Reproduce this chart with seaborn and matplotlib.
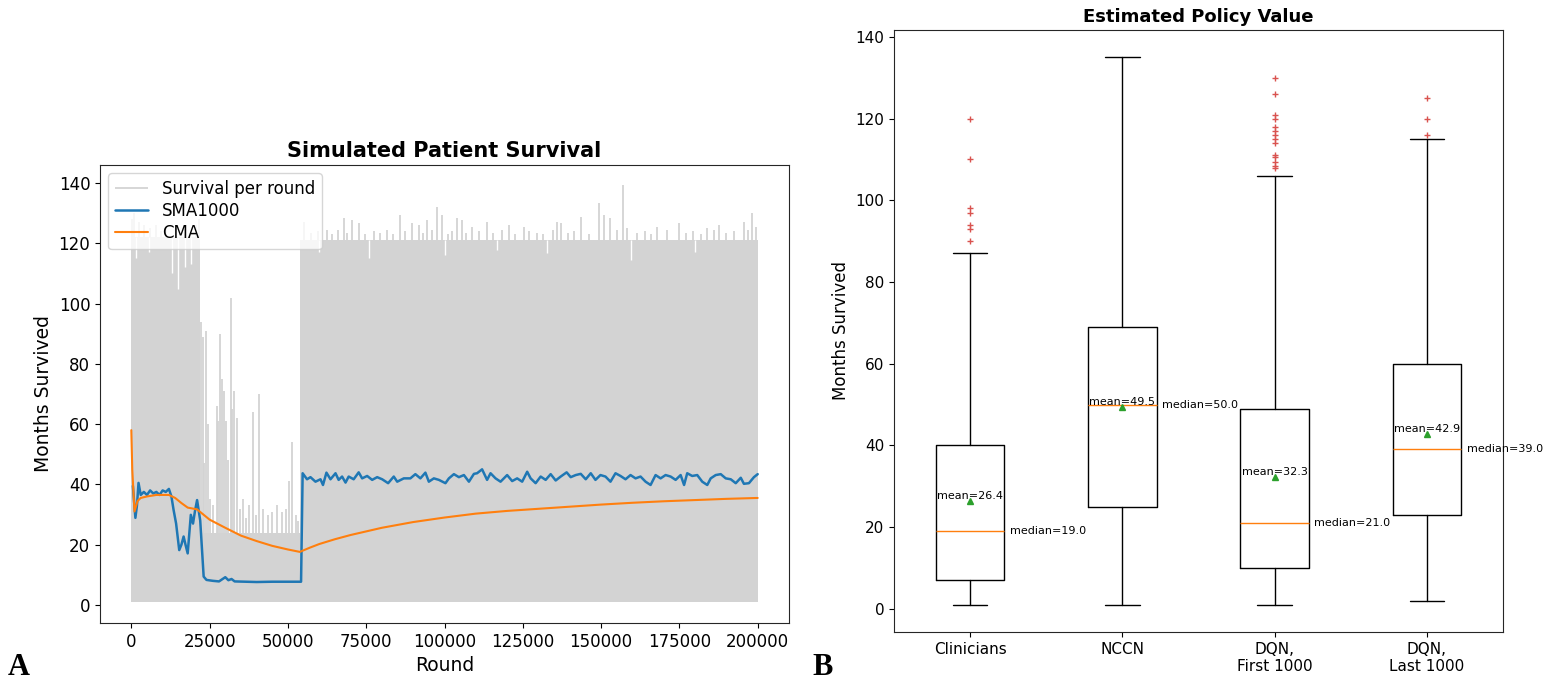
import matplotlib
matplotlib.use('Agg')
import matplotlib.pyplot as plt
import seaborn as sns

# survival per round: dense gray band (envelope + spikes + white notches)
band_round = [0, 22000, 22000, 53800, 53800, 200000]
band_top = [122, 122, 24, 24, 121, 121]
band_bottom = 1

spike_round = [300, 1000, 2500, 4000, 6000, 8000, 9500, 11000, 20500, 21500,
               22400, 22800, 23300, 23900, 24500, 25200, 26100, 27200, 27700, 28400,
               29000, 29500, 30100, 31000, 31800, 32300, 32800, 33900, 34800, 35600,
               36700, 37500, 38800, 39700, 40800, 42000, 43500, 45000, 46500, 48000,
               49500, 50500, 51300, 52500, 53300,
               55000, 62500, 67800, 70500, 72600, 85900, 89700, 91800, 94500, 97700,
               99300, 104000, 105700, 108900, 113600, 120500, 125300, 136000, 137100, 143500,
               149300, 150900, 153000, 157100, 158400, 168000, 174900, 183900, 187600, 195600,
               198100, 199400,
               57500, 59500, 64000, 66000, 69000, 74500, 77500, 79500, 81500, 83500,
               87500, 93000, 96000, 101000, 102500, 107000, 111000, 115500, 118500, 122500,
               127000, 129500, 131500, 134500, 139500, 141500, 146000, 155000, 161500, 164000,
               166000, 171000, 177000, 179500, 182000, 186000, 190000, 192500, 197000]
spike_top = [128, 130, 127, 126, 125, 126, 124, 125, 126, 128,
             94, 89, 47, 91, 60, 35, 33, 66, 61, 90,
             75, 71, 61, 48, 102, 65, 71, 62, 32, 35,
             29, 33, 64, 30, 70, 32, 30, 31, 33, 31,
             32, 41, 54, 30, 28,
             127.2, 124.4, 128.3, 127.7, 126.6, 129.4, 126.6, 126.1, 127.7, 132.2,
             129.5, 128.3, 127.7, 125.5, 127.2, 126.1, 125.5, 127.2, 126.6, 128.8,
             133.3, 129.4, 128.3, 139.3, 125.0, 125.5, 126.6, 125.0, 126.1, 127.2,
             130.2, 125.5,
             123.5, 124.0, 123.0, 124.5, 123.5, 123.0, 124.0, 123.5, 124.5, 123.0,
             124.0, 123.5, 124.5, 123.0, 124.0, 123.5, 124.0, 123.5, 124.5, 123.0,
             124.0, 123.5, 123.0, 124.5, 123.5, 124.0, 123.0, 124.5, 123.5, 124.0,
             123.0, 124.5, 123.5, 124.0, 123.0, 124.5, 123.5, 124.0, 124.5]

notch_round = [1500, 5500, 13000, 14800, 17000, 19000,
               60000, 75800, 100000, 116800, 132800, 159400, 180000]
notch_low = [115, 117, 110, 105, 112, 113,
             117, 115, 116, 117.7, 116.7, 114.5, 117]
notch_high = [122, 122, 122, 122, 122, 122,
              121, 121, 121, 121, 121, 121, 121]

# simple moving average (1000 rounds)
sma_round = [500, 1300, 1800, 2300, 3000, 4000, 5000, 6000, 7000, 8000,
             9000, 10000, 11000, 12000, 12800, 13500, 14300, 15300, 16000, 16700,
             17300, 18000, 19000, 19700, 20300, 21000, 22000, 23100, 24000, 26000,
             28000, 30000, 31000, 32000, 33000, 36000, 40000, 45000, 50000, 54200,
             54700, 56100, 57200, 58800, 60400, 61200, 62300, 63600, 65200, 66200,
             67300, 68400, 69400, 71000, 72600, 73700, 75300, 76900, 78500, 80100,
             82000, 83800, 84900, 87000, 89100, 90700, 92300, 93900, 95000, 96600,
             98200, 100300, 101400, 103000, 104600, 106200, 107800, 109400, 110400, 112000,
             112600, 113600, 114700, 116300, 117900, 120000, 121600, 123200, 124800, 126400,
             127500, 129100, 130700, 132300, 133900, 135500, 137100, 139000, 140300, 141900,
             143500, 145100, 146700, 148200, 149800, 151400, 153000, 154600, 156200, 157800,
             159400, 161000, 162600, 164200, 165800, 167400, 169000, 170600, 172200, 173800,
             175400, 176500, 177500, 179100, 180700, 182300, 183900, 185000, 186600, 188200,
             189800, 191400, 193000, 194600, 195600, 197200, 198800, 200000]
sma_value = [39.5, 28.9, 33.0, 40.5, 36.5, 37.5, 36.5, 38.0, 37.0, 37.5,
             36.5, 38.0, 37.5, 38.5, 36.0, 31.5, 27.0, 18.2, 20.0, 22.7,
             20.0, 17.1, 29.9, 27.0, 31.0, 34.8, 28.0, 9.4, 8.3, 8.0,
             7.8, 9.2, 8.2, 8.6, 7.8, 7.7, 7.6, 7.7, 7.7, 7.7,
             43.7, 41.7, 42.4, 40.9, 41.7, 39.8, 43.9, 41.7, 43.7, 41.5,
             42.6, 40.6, 42.6, 41.7, 44.0, 42.0, 42.8, 41.5, 42.4, 41.7,
             40.4, 42.6, 40.9, 42.0, 42.0, 43.4, 42.0, 43.9, 40.9, 42.0,
             41.5, 40.4, 42.0, 43.4, 42.4, 43.1, 40.9, 43.5, 43.7, 45.0,
             43.7, 41.5, 43.7, 42.0, 40.9, 43.1, 41.1, 42.0, 40.9, 44.2,
             42.0, 40.4, 42.6, 41.5, 43.4, 41.3, 42.6, 44.0, 42.4, 43.1,
             43.5, 41.7, 43.7, 41.5, 43.1, 42.6, 40.9, 43.7, 42.8, 41.7,
             43.1, 42.0, 42.6, 40.9, 39.8, 43.1, 42.0, 43.1, 42.6, 41.5,
             43.1, 39.8, 43.7, 42.8, 43.1, 40.9, 39.8, 42.0, 43.1, 43.4,
             42.0, 41.7, 40.4, 42.2, 40.2, 40.4, 42.4, 43.4]

# cumulative moving average
cma_round = [0, 300, 1000, 2000, 3000, 5000, 8000, 12000, 14000, 16000,
             18000, 21000, 25000, 30000, 35000, 40000, 45000, 50000, 53800, 57000,
             60000, 65000, 70000, 80000, 90000, 100000, 110000, 120000, 130000, 140000,
             150000, 160000, 170000, 180000, 190000, 200000]
cma_value = [58.0, 45.0, 31.0, 34.5, 35.5, 36.0, 36.5, 36.5, 35.5, 33.8,
             32.3, 31.7, 28.3, 25.6, 23.0, 21.2, 19.6, 18.4, 17.6, 19.0,
             20.2, 21.8, 23.2, 25.6, 27.5, 29.0, 30.3, 31.2, 31.9, 32.6,
             33.3, 33.9, 34.4, 34.8, 35.2, 35.5]

# boxplot statistics (months survived)
box_labels = ['Clinicians', 'NCCN', 'DQN,\nFirst 1000', 'DQN,\nLast 1000']
box_whislo = [1, 1, 1, 2]
box_q1 = [7, 25, 10, 23]
box_med = [19.0, 50.0, 21.0, 39.0]
box_q3 = [40, 69, 49, 60]
box_whishi = [87, 135, 106, 115]
box_mean = [26.4, 49.5, 32.3, 42.9]
box_fliers = [[90, 93, 94, 97, 98, 110, 120],
              [],
              [108, 108.5, 109.5, 110.5, 111, 114, 115, 116, 117, 118, 120, 121, 126, 130],
              [116, 120, 125]]

sns.set_style('ticks')
plt.rcParams['font.family'] = ['DejaVu Sans']
plt.rcParams['text.color'] = 'black'
plt.rcParams['axes.labelcolor'] = 'black'
plt.rcParams['xtick.color'] = 'black'
plt.rcParams['ytick.color'] = 'black'

fig = plt.figure(figsize=(15.51, 6.79), dpi=100)
ax1 = fig.add_axes([100 / 1551, 1 - 623 / 679, 689 / 1551, 458 / 679])
ax2 = fig.add_axes([894 / 1551, 1 - 632 / 679, 609 / 1551, 602 / 679])

# --- A: simulated survival
ax1.fill_between(band_round, band_bottom, band_top, color='lightgray', linewidth=0)
ax1.vlines(spike_round, band_bottom, spike_top, color='lightgray', linewidth=1.3,
           label='Survival per round')
ax1.vlines(notch_round, notch_low, notch_high, color='white', linewidth=1)
sns.lineplot(x=sma_round, y=sma_value, ax=ax1, color='C0', linewidth=1.8, label='SMA1000')
sns.lineplot(x=cma_round, y=cma_value, ax=ax1, color='C1', linewidth=1.5, label='CMA')
ax1.set_xlim(-10000, 210000)
ax1.set_ylim(-6, 146)
ax1.set_xticks(range(0, 200001, 25000))
ax1.set_yticks(range(0, 141, 20))
ax1.tick_params(labelsize=12)
ax1.set_title('Simulated Patient Survival', fontsize=15, fontweight='bold')
ax1.set_xlabel('Round', fontsize=13.5)
ax1.set_ylabel('Months Survived', fontsize=13.5)
h, l = ax1.get_legend_handles_labels()
ax1.legend(h, l, loc='upper left', fontsize=12, labelspacing=0.25)

# --- B: estimated policy value
stats = []
for i in range(len(box_labels)):
    stats.append({'label': box_labels[i], 'whislo': box_whislo[i], 'q1': box_q1[i],
                  'med': box_med[i], 'q3': box_q3[i], 'whishi': box_whishi[i],
                  'mean': box_mean[i], 'fliers': box_fliers[i]})
ax2.bxp(stats, showmeans=True, widths=0.45,
        flierprops=dict(marker='+', markeredgecolor='#d9534f', markersize=5, linestyle='none'),
        medianprops=dict(color='C1', linewidth=1),
        meanprops=dict(marker='^', markerfacecolor='C2', markeredgecolor='C2', markersize=5))
for i in range(len(box_labels)):
    pos = i + 1
    ax2.annotate('mean=%.1f' % box_mean[i], xy=(pos, box_mean[i]), xytext=(0, 0),
                 textcoords='offset points', ha='center', va='bottom', fontsize=8)
    ax2.annotate('median=%.1f' % box_med[i], xy=(pos + 0.225, box_med[i]), xytext=(4, 0),
                 textcoords='offset points', ha='left', va='center', fontsize=8)
ax2.set_ylim(-5.7, 141.7)
ax2.set_title('Estimated Policy Value', fontsize=13, fontweight='bold')
ax2.set_ylabel('Months Survived', fontsize=12)
ax2.tick_params(labelsize=11)

fig.text(8 / 1551, 4 / 679, 'A', family='Liberation Serif', fontweight='bold', fontsize=22)
fig.text(812 / 1551, 4 / 679, 'B', family='Liberation Serif', fontweight='bold', fontsize=22)

fig.savefig('out.png', dpi=100)
